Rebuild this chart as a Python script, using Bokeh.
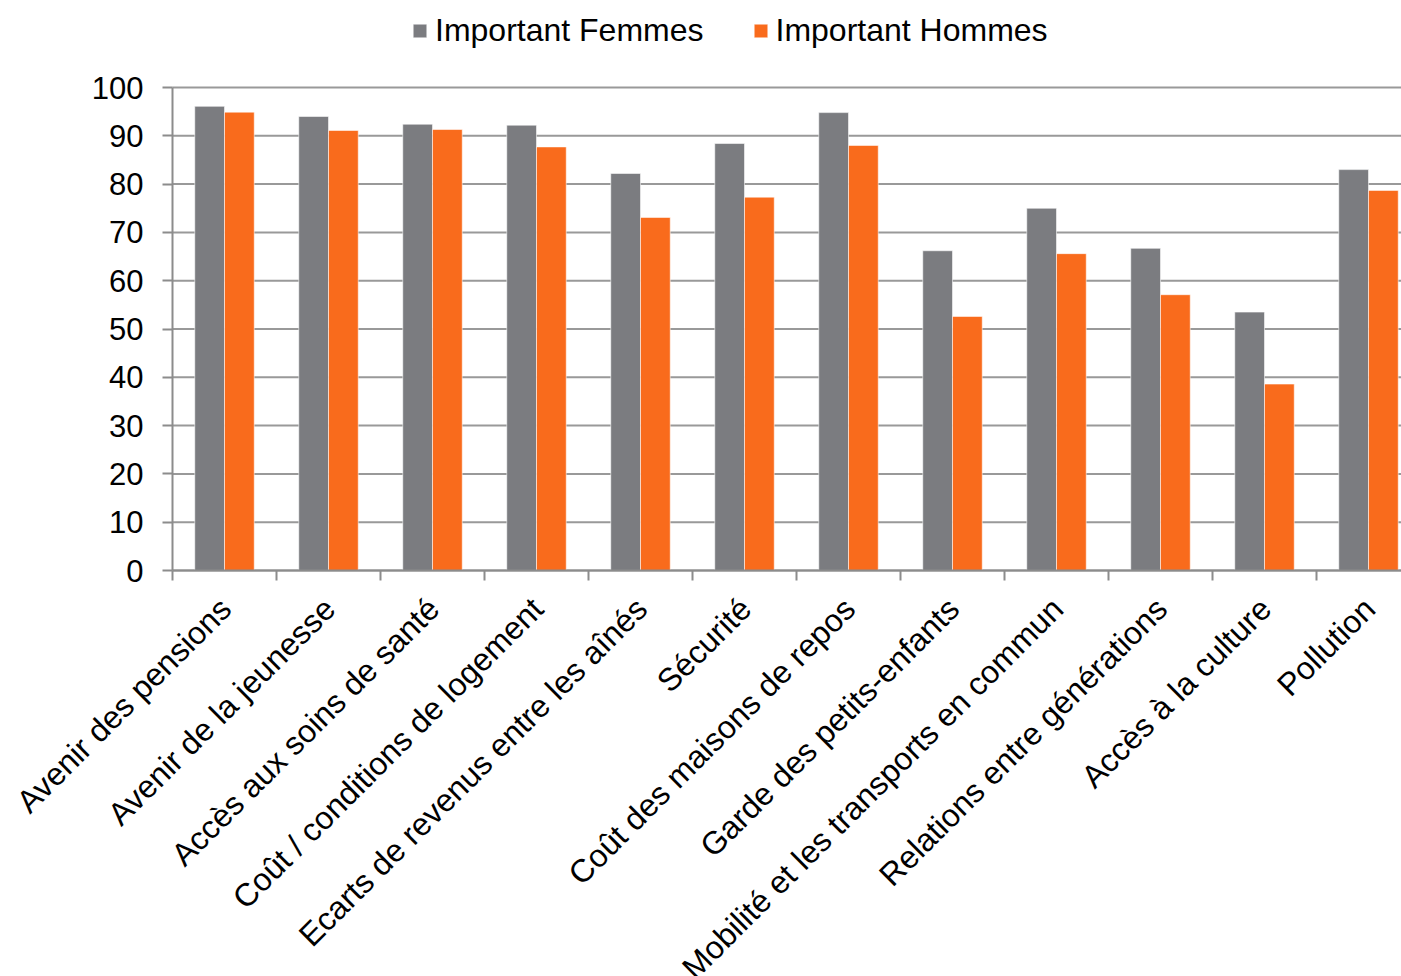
import math
from bokeh.plotting import figure
from bokeh.models import ColumnDataSource, Range1d, FixedTicker, LabelSet, Legend, LegendItem
from bokeh.core.properties import value
from bokeh.transform import dodge
from bokeh.embed import file_html
from bokeh.resources import INLINE

categories = [
    "Avenir des pensions",
    "Avenir de la jeunesse",
    "Accès aux soins de santé",
    "Coût / conditions de logement",
    "Ecarts de revenus entre les aînés",
    "Sécurité",
    "Coût des maisons de repos",
    "Garde des petits-enfants",
    "Mobilité et les transports en commun",
    "Relations entre générations",
    "Accès à la culture",
    "Pollution",
]
femmes = [96.1, 94.0, 92.4, 92.2, 82.2, 88.4, 94.8, 66.2, 75.0, 66.7, 53.5, 83.0]
hommes = [94.9, 91.1, 91.3, 87.7, 73.1, 77.3, 88.0, 52.6, 65.6, 57.1, 38.6, 78.7]
y_ticks = [0, 10, 20, 30, 40, 50, 60, 70, 80, 90, 100]

GRAY = "#7b7c80"
ORANGE = "#f96b1c"
GRID = "#999999"
AXIS = "#8c8c8c"
FONT = "Liberation Sans"

n = len(categories)
src = ColumnDataSource(dict(
    x=[i + 0.5 for i in range(n)],
    cat=categories,
    femmes=femmes,
    hommes=hommes,
    zero=[0] * n,
))
grid_src = ColumnDataSource(dict(y=y_ticks, x0=[0] * len(y_ticks), x1=[n] * len(y_ticks)))

W, H = 1401, 976
axis_x_px = 172.0                     # screen column of the value axis
y100_px, y0_px = 87.0, 570.0          # screen rows of the 100 and 0 gridlines
ppu = (y0_px - y100_px) / 100.0       # pixels per unit
cat_px = 104.0                        # pixels per category

p = figure(width=W, height=H, output_backend="svg", toolbar_location=None,
           x_range=Range1d(-axis_x_px / cat_px, (W - axis_x_px) / cat_px),
           y_range=Range1d(-(H - y0_px) / ppu, 100 + y100_px / ppu),
           min_border_left=0, min_border_right=0, min_border_top=0,
           min_border_bottom=0)
p.outline_line_color = None
p.background_fill_color = "white"
p.border_fill_color = "white"
p.xgrid.visible = False
p.ygrid.visible = False

p.segment(x0="x0", x1="x1", y0="y", y1="y", source=grid_src,
          line_color=GRID, line_width=2, level="underlay")

rf = p.vbar(x=dodge("x", -0.143, range=p.x_range), top="femmes", width=0.286, source=src,
            fill_color=GRAY, line_color="white", line_alpha=0.55, line_width=1)
rh = p.vbar(x=dodge("x", 0.143, range=p.x_range), top="hommes", width=0.286, source=src,
            fill_color=ORANGE, line_color="white", line_alpha=0.55, line_width=1)

# y axis, crossing at the start of the category axis
p.yaxis.fixed_location = 0
p.yaxis.ticker = FixedTicker(ticks=y_ticks)
p.yaxis.bounds = (0, 100)
p.yaxis.axis_line_color = AXIS
p.yaxis.axis_line_width = 2
p.yaxis.major_tick_line_color = AXIS
p.yaxis.major_tick_line_width = 2
p.yaxis.major_tick_in = 0
p.yaxis.major_tick_out = 10
p.yaxis.minor_tick_line_color = None
p.yaxis.major_label_text_font = FONT
p.yaxis.major_label_text_font_size = "31px"
p.yaxis.major_label_text_color = "black"
p.yaxis.major_label_standoff = 19

# x axis at value 0: ticks at category boundaries, labels drawn separately
p.xaxis.fixed_location = 0
p.xaxis.bounds = (0, n)
p.xaxis.ticker = FixedTicker(ticks=list(range(n + 1)))
p.xaxis.major_label_overrides = {i: "" for i in range(n + 1)}
p.xaxis.axis_line_color = AXIS
p.xaxis.axis_line_width = 2
p.xaxis.major_tick_line_color = AXIS
p.xaxis.major_tick_line_width = 2
p.xaxis.major_tick_in = 0
p.xaxis.major_tick_out = 10
p.xaxis.minor_tick_line_color = None

labels = LabelSet(x="x", y="zero", text="cat", source=src, angle=math.pi / 4,
                  text_align="right", text_baseline="middle", y_offset=-33, x_offset=1,
                  text_font=value(FONT), text_font_size="32px", text_color="black")
p.add_layout(labels)

legend = Legend(items=[LegendItem(label="Important Femmes", renderers=[rf]),
                       LegendItem(label="Important Hommes", renderers=[rh])],
                orientation="horizontal", location=(411, H - 49),
                glyph_width=17, glyph_height=17, label_standoff=7, spacing=48,
                padding=0, margin=0, border_line_color=None, background_fill_alpha=0,
                label_text_font=FONT, label_text_font_size="32px", label_text_color="black")
p.add_layout(legend, "center")

open("out.html", "w").write(file_html(p, INLINE))
